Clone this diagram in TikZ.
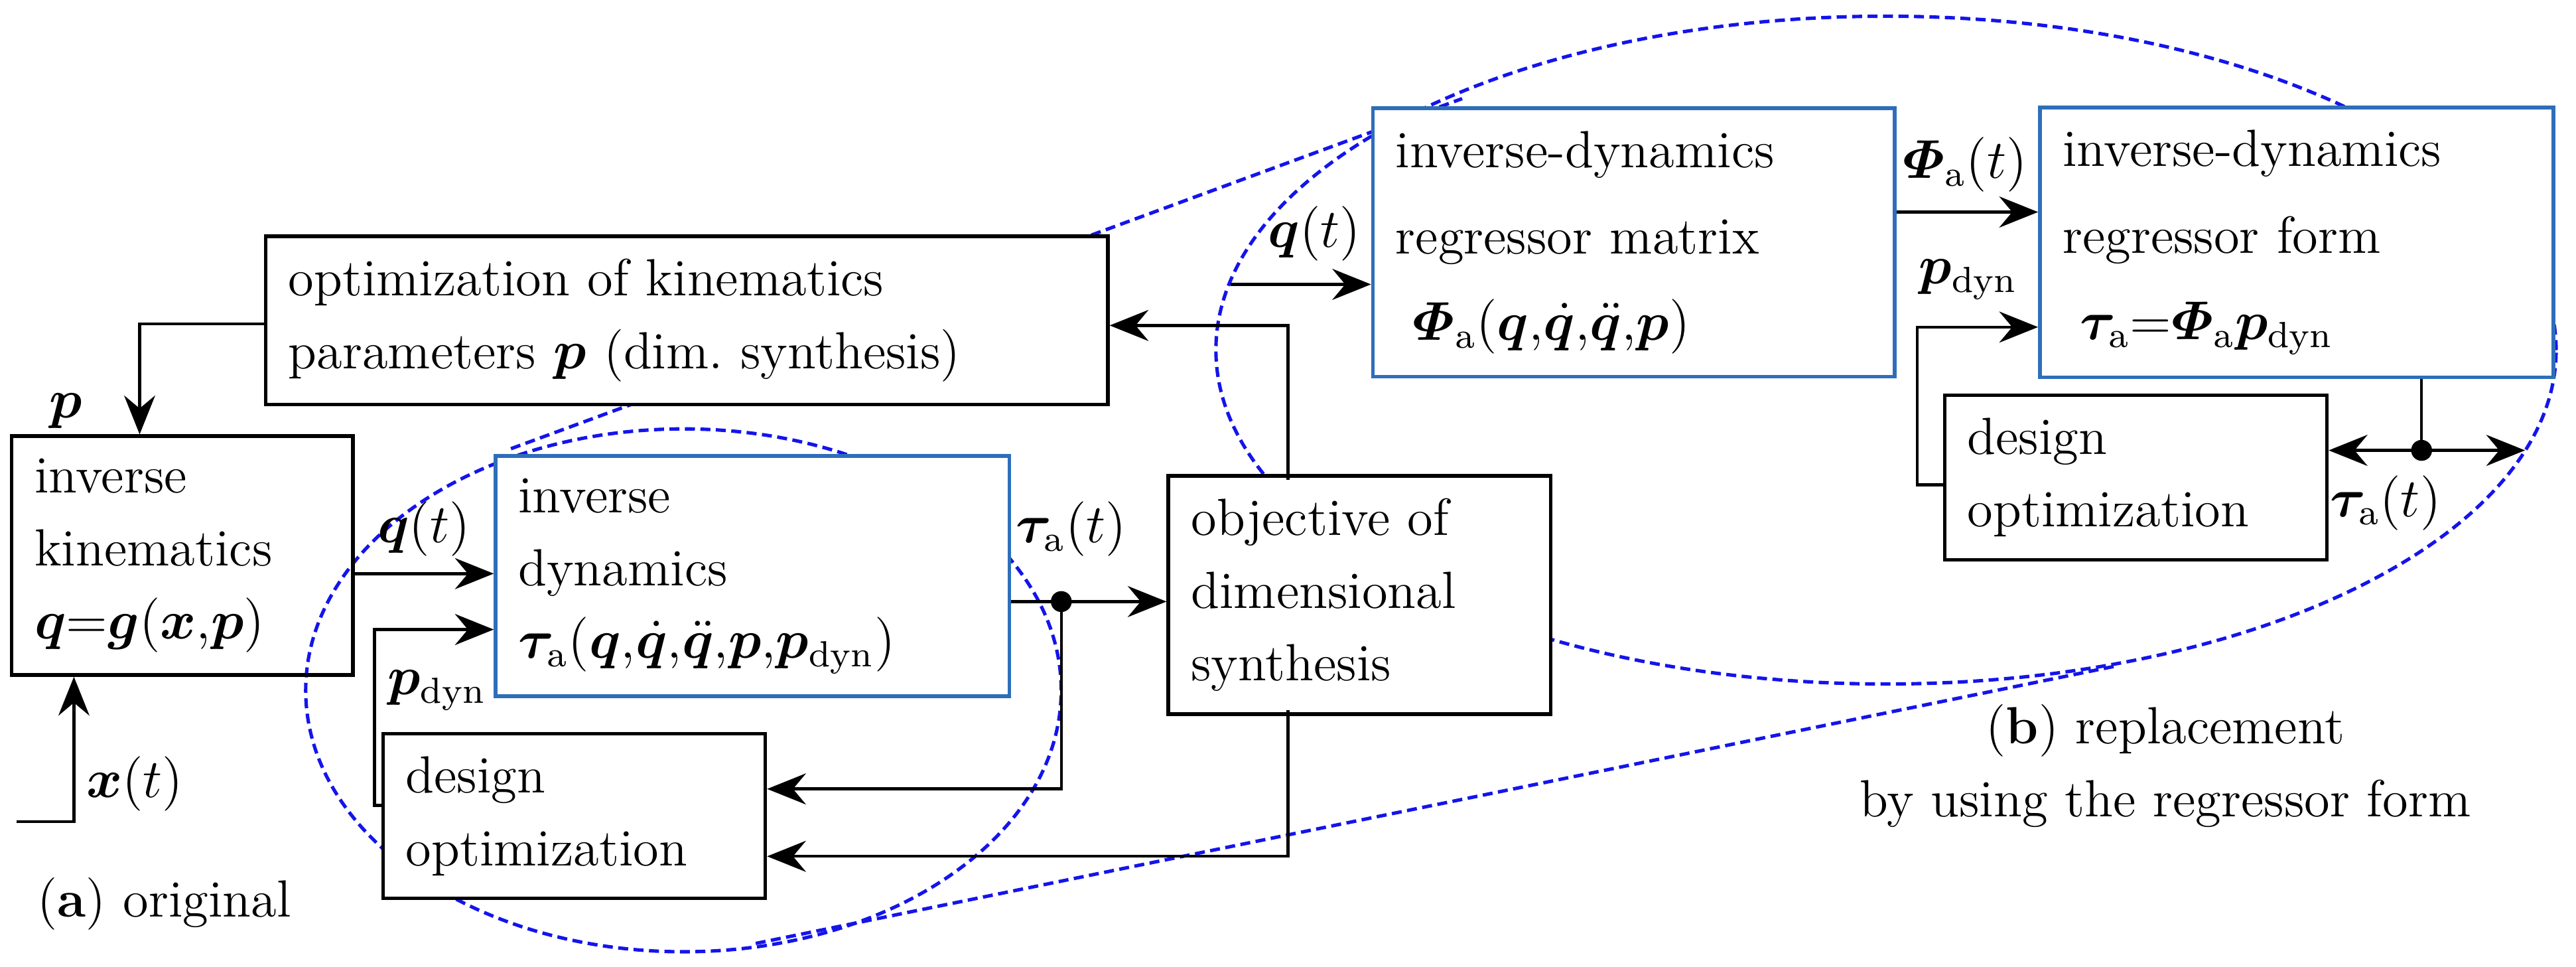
\documentclass[tikz,border=0pt]{standalone}
\usepackage{amsmath,amssymb,bm}
\usetikzlibrary{arrows.meta}
\definecolor{boxblue}{RGB}{46,110,185}
\definecolor{dashblue}{RGB}{20,20,235}
\begin{document}
\begin{tikzpicture}[x=0.127mm,y=-0.127mm,
  font=\fontsize{11.5}{16}\selectfont,
  box/.style={draw=black,line width=0.8pt,align=left,inner sep=5pt,anchor=center},
  bbox/.style={box,draw=boxblue},
  con/.style={line width=0.65pt},
  arr/.style={con,-{Stealth[length=3mm,width=2.4mm,inset=1mm]}},
  zoomline/.style={dashblue,dashed,line width=0.75pt,dash pattern=on 2.2pt off 1.2pt}]
\useasboundingbox (0,0) rectangle (1568,588);
% ellipses and tangent lines
\draw[zoomline] (416,420) ellipse [x radius=29.2mm, y radius=20.2mm];
\draw[zoomline] (1148,213) ellipse [x radius=51.8mm, y radius=25.8mm];
\coordinate (t1) at (311,273); \coordinate (t2) at (890,60);
\coordinate (b1) at (460,574); \coordinate (b2) at (1289,405);
\draw[zoomline] (t1) -- (t2);
\draw[zoomline] (b1) -- (b2);
% boxes
\node[box,fill=white,minimum width=508*0.127mm,minimum height=100*0.127mm,text width=485*0.127mm] (opt) at (418,195)
  {optimization of kinematics\\parameters $\bm{p}$ (dim.\ synthesis)};
\node[box,minimum width=198*0.127mm,minimum height=116*0.127mm,text width=180*0.127mm] (ik) at (111,338)
  {inverse\\kinematics\\$\bm{q}{=}\bm{g}(\bm{x}{,}\bm{p})$};
\node[bbox,fill=white,minimum width=306*0.127mm,minimum height=113*0.127mm,text width=285*0.127mm] (id) at (458,350.5)
  {inverse\\dynamics\\$\bm{\tau}_{\mathrm{a}}(\bm{q}{,}\dot{\bm{q}}{,}\ddot{\bm{q}}{,}\bm{p}{,}\bm{p}_{\mathrm{dyn}})$};
\node[box,fill=white,minimum width=221*0.127mm,minimum height=140*0.127mm,text width=205*0.127mm] (obj) at (827.5,362)
  {objective of\\dimensional\\synthesis};
\node[box,fill=white,minimum width=225*0.127mm,minimum height=93*0.127mm,text width=205*0.127mm] (dl) at (349.5,496.5)
  {design\\optimization};
\node[bbox,fill=white,minimum width=309*0.127mm,minimum height=145*0.127mm,text width=290*0.127mm,font=\fontsize{11.5}{19}\selectfont] (rm) at (994.5,147.5)
  {inverse-dynamics\\regressor matrix\\\ $\bm{\varPhi}_{\mathrm{a}}(\bm{q}{,}\dot{\bm{q}}{,}\ddot{\bm{q}}{,}\bm{p})$};
\node[bbox,fill=white,minimum width=302*0.127mm,minimum height=145*0.127mm,text width=285*0.127mm,font=\fontsize{11.5}{19}\selectfont] (rf) at (1398,147.5)
  {inverse-dynamics\\regressor form\\\ $\bm{\tau}_{\mathrm{a}}{=}\bm{\varPhi}_{\mathrm{a}}\bm{p}_{\mathrm{dyn}}$};
\node[box,fill=white,minimum width=224*0.127mm,minimum height=97*0.127mm,text width=205*0.127mm] (dr) at (1300,290.5)
  {design\\optimization};
% coordinates
\coordinate (xs) at (10,500);
\coordinate (xc) at (45,500);
\coordinate (pc) at (85,197);
\coordinate (dot1) at (646,366);
\coordinate (dot2) at (1474,274);
\coordinate (qs) at (749,173);
% connectors left
\draw[arr] (opt.west |- pc) -- (pc) -- (pc |- ik.north);
\draw[arr] (xs) -- (xc) -- (xc |- ik.south);
\draw[arr] (ik.east |- 0,349) -- (id.west |- 0,349);
\draw[arr] (dl.west |- 0,490) -- (228,490) -- (228,383) -- (id.west |- 0,383);
\draw[con] (id.east |- dot1) -- (dot1);
\draw[arr] (dot1) -- (obj.west |- dot1);
\draw[arr] (dot1) -- (646,480) -- (dl.east |- 0,480);
\fill (dot1) circle (2.3pt);
\draw[arr] (784,432) -- (784,521) -- (dl.east |- 0,521);
\draw[arr] (784,292) -- (784,198) -- (opt.east |- 0,198);
% connectors right
\draw[arr] (qs) -- (rm.west |- qs);
\draw[arr] (rm.east |- 0,129) -- (rf.west |- 0,129);
\draw[arr] (dr.west |- 0,295) -- (1167,295) -- (1167,199) -- (rf.west |- 0,199);
\draw[con] (rf.south -| dot2) -- (dot2);
\draw[arr] (dot2) -- (dr.east |- dot2);
\coordinate (tr) at (1537,274);
\draw[arr] (dot2) -- (tr);
\fill (dot2) circle (2.3pt);
% labels
\node (lp) at (40,250) {$\bm{p}$};
\node (lx) at (82,477) {$\bm{x}(t)$};
\node (lq1) at (258,322) {$\bm{q}(t)$};
\node (lpd1) at (266,420) {$\bm{p}_{\mathrm{dyn}}$};
\node (lt1) at (652,322) {$\bm{\tau}_{\mathrm{a}}(t)$};
\node (lq2) at (800,142) {$\bm{q}(t)$};
\node (lphi) at (1196,100) {$\bm{\varPhi}_{\mathrm{a}}(t)$};
\node (lpd2) at (1198,170) {$\bm{p}_{\mathrm{dyn}}$};
\node (lt2) at (1452,306) {$\bm{\tau}_{\mathrm{a}}(t)$};
\node (la) at (100,550) {(\textbf{a}) original};
\node[align=center] (lb) at (1318,466) {(\textbf{b}) replacement\\by using the regressor form};
\end{tikzpicture}
\end{document}
